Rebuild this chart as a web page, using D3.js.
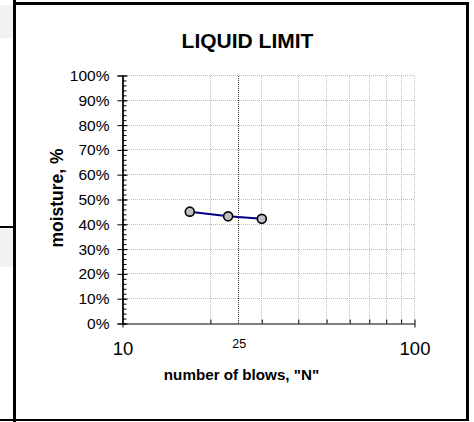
<!DOCTYPE html>
<html><head><meta charset="utf-8">
<script src="https://cdn.jsdelivr.net/npm/d3@7"></script>
<style>
html,body{margin:0;padding:0;background:#fff;}
svg{display:block;font-family:"Liberation Sans",Arial,sans-serif;}
</style></head>
<body>
<svg id="c" width="474" height="422"></svg>
<script>
// data
const blows = [17, 23, 30];
const moisture = [0.451, 0.432, 0.422];
const yTicks = [0,0.1,0.2,0.3,0.4,0.5,0.6,0.7,0.8,0.9,1.0];
const xGrid = [20,30,40,50,60,70,80,90,100];
const xLabels = [10,25,100];
const title = "LIQUID LIMIT";
const xTitle = 'number of blows, "N"';
const yTitle = "moisture, %";

const svg = d3.select("#c");
const x = d3.scaleLog().domain([10,100]).range([122.5,414.5]);
const y = d3.scaleLinear().domain([0,1]).range([323.5,75.5]);
const px = v => Math.round(v - 0.5) + 0.5;

// spreadsheet artifacts on left
svg.append("rect").attr("x",0).attr("y",5).attr("width",13).attr("height",33).attr("fill","#f2f2f2");
svg.append("rect").attr("x",0).attr("y",229).attr("width",13).attr("height",38).attr("fill","#f2f2f2");
svg.append("line").attr("x1",0).attr("x2",15).attr("y1",227).attr("y2",227).attr("stroke","#000").attr("stroke-width",2);

// frame
svg.append("line").attr("x1",14.5).attr("x2",14.5).attr("y1",0).attr("y2",422).attr("stroke","#000").attr("stroke-width",3);
svg.append("line").attr("x1",13).attr("x2",469).attr("y1",3.5).attr("y2",3.5).attr("stroke","#000").attr("stroke-width",3);
svg.append("line").attr("x1",467.5).attr("x2",467.5).attr("y1",2).attr("y2",421).attr("stroke","#000").attr("stroke-width",3);
svg.append("line").attr("x1",0).attr("x2",469).attr("y1",420).attr("y2",420).attr("stroke","#000").attr("stroke-width",2);

// gridlines
const g = svg.append("g").attr("shape-rendering","crispEdges");
g.selectAll(".hg").data(yTicks.filter(d=>d>0)).join("line")
  .attr("x1",x(10)).attr("x2",x(100)).attr("y1",d=>px(y(d))).attr("y2",d=>px(y(d)))
  .attr("stroke","#bdbdbd").attr("stroke-width",1).attr("stroke-dasharray","1,1");
g.selectAll(".vg").data(xGrid).join("line")
  .attr("x1",d=>px(x(d))).attr("x2",d=>px(x(d))).attr("y1",y(1)).attr("y2",y(0))
  .attr("stroke","#bdbdbd").attr("stroke-width",1).attr("stroke-dasharray","1,1");
g.append("line").attr("x1",px(x(25))).attr("x2",px(x(25))).attr("y1",y(1)).attr("y2",y(0))
  .attr("stroke","#333").attr("stroke-width",1).attr("stroke-dasharray","1,1");

// y axis
const yAx = svg.append("g").attr("transform",`translate(${x(10)},0)`)
  .call(d3.axisLeft(y).tickValues(yTicks).tickFormat(d3.format(".0%")).tickSize(5).tickPadding(8));
yAx.selectAll("text").attr("font-size",15.5).attr("fill","#000");
const minor = d3.range(0,1.0001,0.02);
svg.append("g").attr("transform",`translate(${x(10)},0)`)
  .call(d3.axisRight(y).tickValues(minor).tickFormat("").tickSize(4).tickSizeOuter(0));
svg.append("g").attr("transform",`translate(${x(10)},0)`)
  .call(d3.axisRight(y).tickValues(yTicks).tickFormat("").tickSize(5).tickSizeOuter(0));

// x axis
const xAx = svg.append("g").attr("transform",`translate(0,${y(0)})`)
  .call(d3.axisBottom(x).tickValues(xLabels).tickFormat(d3.format("d")).tickSize(0).tickPadding(18).tickSizeOuter(0));
xAx.selectAll("text").attr("font-size",d=>d===25?12.5:18.5).attr("fill","#000")
  .attr("dy",d=>d===25?"0.5em":"0.71em");
svg.append("g").attr("transform",`translate(0,${y(0)})`)
  .call(d3.axisTop(x).tickValues(xGrid).tickFormat("").tickSize(4).tickSizeOuter(0))
  .select(".domain").remove();
svg.append("g").attr("transform",`translate(0,${y(0)})`)
  .call(d3.axisBottom(x).tickValues([10,100]).tickFormat("").tickSize(4).tickSizeOuter(0))
  .select(".domain").remove();
svg.selectAll(".domain, .tick line").attr("stroke","#000");

// series
const pts = blows.map((b,i)=>({b, m:moisture[i]}));
svg.append("path").datum(pts)
  .attr("d", d3.line().x(d=>x(d.b)).y(d=>y(d.m)))
  .attr("fill","none").attr("stroke","#000080").attr("stroke-width",2);
svg.selectAll(".pt").data(pts).join("circle")
  .attr("cx",d=>x(d.b)).attr("cy",d=>y(d.m)).attr("r",4.5)
  .attr("fill","#c0c0c0").attr("stroke","#000").attr("stroke-width",1.6);

// titles
svg.append("text").attr("x",247.5).attr("y",48).attr("text-anchor","middle")
  .attr("font-size",21).attr("font-weight","bold").text(title);
svg.append("text").attr("x",241.5).attr("y",380).attr("text-anchor","middle")
  .attr("font-size",15.2).attr("font-weight","bold").text(xTitle);
svg.append("text").attr("transform","translate(63,198) rotate(-90)").attr("text-anchor","middle")
  .attr("font-size",17.5).attr("font-weight","bold").text(yTitle);
</script>
</body></html>
